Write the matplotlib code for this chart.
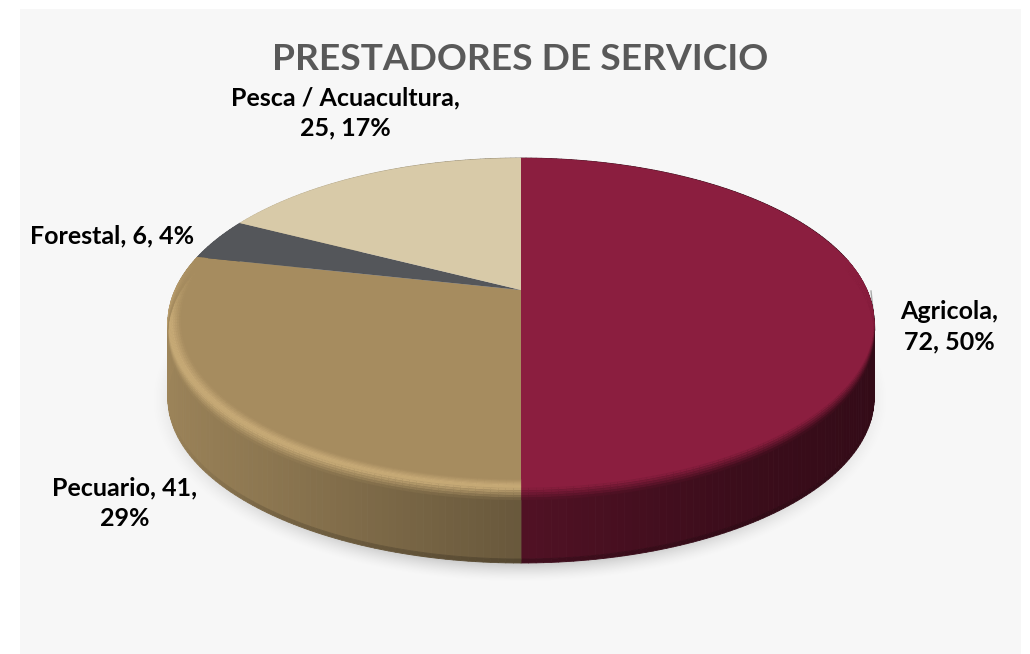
import numpy as np
import matplotlib
matplotlib.use('Agg')
import matplotlib.pyplot as plt
import matplotlib.transforms as mtransforms
from matplotlib.collections import PolyCollection
from matplotlib.patches import Rectangle
from matplotlib.path import Path

# data
names = ['Agricola', 'Pecuario', 'Forestal', 'Pesca / Acuacultura']
values = [72, 41, 6, 25]
percents = [50, 29, 4, 17]
breaks = [',\n', ', ', ', ', ',\n']
breaks2 = [', ', ',\n', ', ', ', ']
colors = ['#8B1E3F', '#A68C5F', '#54565A', '#D8CAA8']
rim_colors = ['#8B1E3F', '#C9AC78', '#54565A', '#D8CAA8']
title = 'PRESTADORES DE SERVICIO'

# pie geometry in pixels (the tilted disc is a projective image of a circle)
CX, CY = 521, 290
K, A, C = 346.0, 100.4, 0.2
DEPTH = 75


def project(x, y):
    d = 1 + C * y
    return CX + K * x / d, (CY - A * y) / d


class Tilt(mtransforms.Transform):
    input_dims = output_dims = 2
    has_inverted = False

    def transform_non_affine(self, xy):
        xy = np.asarray(xy, float)
        px, py = project(xy[:, 0], xy[:, 1])
        return np.column_stack([px, py])

    def transform_path_non_affine(self, path):
        polys = path.transformed(mtransforms.Affine2D().scale(2000)).to_polygons()
        return Path(self.transform_non_affine(polys[0] / 2000))


def point(r, th, d=0):
    # th measured clockwise from 12 o'clock
    px, py = project(r * np.sin(th), r * np.cos(th))
    return px, py + d


def rgb(c):
    return np.array(matplotlib.colors.to_rgb(c))


def side_shade(th):
    x = np.sin(th)
    return np.interp(x, [-1, -0.6, -0.001, 0.001, 0.5, 1],
                     [0.95, 0.84, 0.63, 0.58, 0.43, 0.36])


fig = plt.figure(figsize=(10.3, 6.54), dpi=100)
ax = fig.add_axes([0, 0, 1, 1])

# slices of the top face
wedges, _ = ax.pie(values, colors=colors, startangle=90, counterclock=False,
                   wedgeprops={'linewidth': 0})
tilt = Tilt()
for w in wedges:
    w.set_transform(tilt + ax.transData)
    w.set_zorder(3)

ax.set_aspect('auto')
ax.set_xlim(0, 1030)
ax.set_ylim(654, 0)
ax.axis('off')

# panel
ax.add_patch(Rectangle((20, 9), 1001, 645, fc='#F7F7F7', ec='none', zorder=0))

# soft shadow under the pie
gx, gy = np.meshgrid(np.arange(1030) + 0.5, np.arange(654) + 0.5)
dist = np.sqrt(((gx - 520) / 368) ** 2 + ((gy - 400) / 182) ** 2)
shadow = np.zeros(gx.shape + (4,))
shadow[..., :3] = 0.55
shadow[..., 3] = np.clip((1.0 - dist) / 0.1, 0, 1) ** 1.5 * 0.4
ax.imshow(shadow, extent=(0, 1030, 654, 0), aspect='auto', zorder=1)
ax.set_xlim(0, 1030)
ax.set_ylim(654, 0)

# side wall and rim, built per slice from the same angles as the pie
edges = np.cumsum([0] + values) / sum(values) * 2 * np.pi
side_q, side_c, rim_q, rim_c = [], [], [], []
for i in range(len(values)):
    n = max(int((edges[i + 1] - edges[i]) / np.radians(1)), 1)
    ths = np.linspace(edges[i], edges[i + 1], n + 1)
    base = rgb(colors[i])
    for a, b in zip(ths[:-1], ths[1:]):
        mid = (a + b) / 2
        sh = base * side_shade(mid)
        # wall, darker right at the foot (fading out towards the sides)
        foot = np.interp(abs(np.sin(mid)), [0, 0.6, 0.95], [0.8, 0.85, 1.0])
        for d0, d1, f0 in [(0, DEPTH - 4, 1.0), (DEPTH - 4, DEPTH, foot)]:
            side_q.append([point(1, a, d0), point(1, b, d0), point(1, b, d1), point(1, a, d1)])
            side_c.append(sh * f0)
        # rim only on the front part
        s = np.clip((0.21 - np.cos(mid)) / 0.4, 0, 1)
        if s > 0:
            light = base + (rgb(rim_colors[i]) - base) * s
            sh_rim = base + (sh - base) * s
            stops = [(0.965, 0, base), (0.99, 0, light), (1.0, 0, light), (1.0, 12, sh_rim)]
            for (r0, d0, c0), (r1, d1, c1) in zip(stops[:-1], stops[1:]):
                # small sub-steps so the bevel stays soft
                for t0, t1 in zip(np.linspace(0, 1, 6)[:-1], np.linspace(0, 1, 6)[1:]):
                    ra, rb = r0 + (r1 - r0) * t0, r0 + (r1 - r0) * t1
                    da, db = d0 + (d1 - d0) * t0, d0 + (d1 - d0) * t1
                    rim_q.append([point(ra, a, da), point(ra, b, da), point(rb, b, db), point(rb, a, db)])
                    rim_c.append(c0 + (c1 - c0) * (t0 + t1) / 2)

ax.add_collection(PolyCollection(side_q, facecolors=side_c, edgecolors=side_c,
                                 linewidths=0.6, zorder=2))
ax.add_collection(PolyCollection(rim_q, facecolors=rim_c, edgecolors=rim_c,
                                 linewidths=0.2, zorder=4))

# small grey sliver on the right edge
ax.plot([871, 873, 875], [291, 310, 330], color='#A9A9A9', lw=1, zorder=1.5)

# texts
ax.text(520, 59, title, ha='center', va='center', fontsize=26.7,
        fontweight='bold', family='Lato', color='#595959', zorder=5)

pos = [(949, 327), (125, 503), (112, 236), (345, 113)]
for i, name in enumerate(names):
    lab = f'{name}{breaks[i]}{values[i]}{breaks2[i]}{percents[i]}%'
    ax.text(pos[i][0], pos[i][1], lab, ha='center', va='center', fontsize=18,
            fontweight='bold', family='Lato', color='black', linespacing=1.4, zorder=5)

fig.savefig('out.png', dpi=100)
